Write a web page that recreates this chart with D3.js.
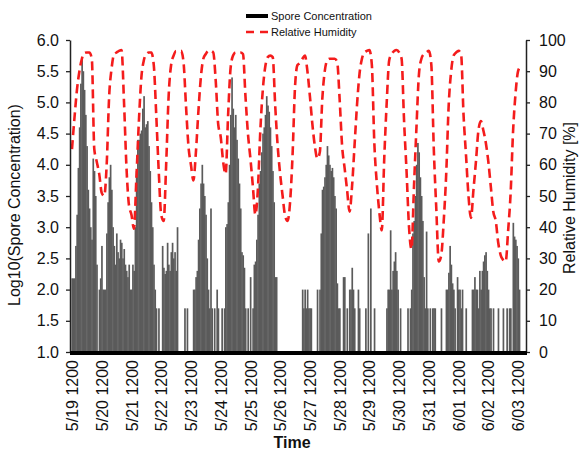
<!DOCTYPE html>
<html>
<head>
<meta charset="utf-8">
<script src="https://cdn.jsdelivr.net/npm/d3@7"></script>
<style>
  body { margin: 0; background: #fff; }
  svg { display: block; font-family: "Liberation Sans", Arial, sans-serif; }
</style>
</head>
<body>
<script>
// hourly log10 spore counts, starting 5/19 12:00 (1.0 = nothing caught)
const startTime = new Date(2008, 4, 19, 12, 0);
const sporeLog = [
  2.18,2.18,2.18,2.7,3.2,3.95,4.6,5.3,5.7,5.5,5.2,4.8,4.3,3.6,3.3,3.0,2.8,4.1,3.9,3.5,2.4,1.0,2.0,2.18,
  2.7,2.0,2.0,2.0,2.9,3.4,3.8,4.0,3.6,3.0,2.7,2.4,2.9,2.6,2.5,2.8,2.75,2.5,2.65,2.4,2.3,2.2,2.4,2.0,
  2.0,2.4,2.3,3.0,3.9,4.4,4.4,4.5,4.55,4.9,5.1,4.6,4.65,4.7,4.3,3.9,3.4,3.0,2.4,2.0,1.7,1.0,1.7,1.0,
  1.0,2.7,2.35,2.25,2.3,2.75,2.4,2.3,2.6,2.75,2.5,2.6,2.3,3.0,1.0,1.0,1.0,1.0,1.0,1.7,1.0,1.7,1.0,1.0,
  1.0,1.0,2.0,2.0,2.2,2.3,2.8,3.3,3.7,4.0,3.7,3.5,3.2,2.5,2.0,1.7,3.3,1.7,1.0,1.7,1.0,2.0,1.7,1.0,
  1.0,1.7,1.0,1.7,3.0,3.05,3.4,4.0,4.8,5.4,4.9,4.6,4.8,4.4,4.1,3.7,3.3,2.6,2.55,2.35,1.7,1.0,1.7,1.0,
  2.2,1.0,1.7,2.4,2.45,2.8,3.2,3.7,3.9,4.2,4.5,4.6,4.8,5.1,4.95,4.85,4.6,4.3,3.9,3.4,2.2,2.2,1.0,1.0,
  1.0,1.0,1.0,1.0,1.0,1.0,1.0,1.0,1.0,1.0,1.0,1.0,1.0,1.0,1.0,1.0,1.0,1.0,2.0,1.7,2.0,1.7,2.0,1.7,
  1.7,1.7,1.0,1.0,1.0,1.0,2.0,1.0,2.0,2.9,3.6,3.65,3.8,4.0,4.3,4.15,4.0,3.9,3.95,3.8,3.5,3.3,2.1,1.7,
  1.7,1.0,1.0,2.2,2.2,1.0,1.7,1.0,2.0,2.0,2.35,2.0,1.7,1.0,1.0,2.0,1.7,1.0,1.0,1.0,1.0,1.7,1.0,2.9,
  1.0,3.3,1.0,1.0,1.7,1.0,1.0,1.0,1.0,1.0,1.0,1.0,1.0,1.0,1.7,2.0,2.0,2.95,2.0,2.3,2.45,2.6,2.3,2.0,
  1.0,1.7,1.0,1.0,1.0,1.0,1.0,1.7,1.0,1.7,2.0,2.9,3.1,3.5,4.0,4.35,4.2,3.8,3.5,3.1,2.2,1.7,2.93,1.7,
  1.0,1.7,1.0,1.7,1.7,1.7,1.0,1.0,1.0,1.0,1.7,1.0,1.0,1.0,2.0,2.0,2.27,2.7,2.4,2.1,2.0,1.7,1.0,2.2,
  2.0,2.0,1.7,2.0,1.0,1.0,1.7,1.0,1.0,1.0,1.0,2.0,2.0,2.2,2.0,2.0,1.7,2.3,2.0,2.3,2.45,2.55,2.6,2.3,
  2.0,1.7,1.7,1.0,1.7,1.0,1.0,1.0,1.7,1.0,1.0,1.0,1.7,1.0,1.0,1.7,1.0,1.7,1.7,1.0,3.07,2.85,2.8,2.7,2.5,2.0,1.0,1.0
];

// relative humidity (%), every 2 hours from the same start
const humidityStep = 2;
const humidity = [
  65,75,84,90,94,95.8,96,96,94,65,61,57,
  51,50,60,82,91,95.5,96,96.5,96.8,80,59,47,
  44,39.5,56,74,88,93.5,95.5,96,96,92,76,58,
  44,42,60,82,92,95,96.5,96.5,96.5,93,79,66,
  60,55,64,77,88,94,95.5,96.5,96.5,96,87,73,
  69,61,57,76,91,95,96,96,96,95.5,82,70,
  62,53,44,52,71,84,91.5,94.5,95,94.5,79,66,
  57,50,43.6,42,48,63,85,92,92.6,94,95,90,
  82,73,66,62,64,81,90,93.5,94,94,94,93,
  81,66,59,52,45,53,66,79,89,94,96,96.5,
  96.8,92,67,54,45,39,62,80,93.5,95.5,96.5,96.8,
  96,94,74,58,40,33,53,72,89,94,95.5,96,
  96.5,92,65,46,29,31,42,57,79,90,95,96,
  96.5,95.5,76,63,50,43,52,61,71,74,71,67,
  61,53,45,42,35,31,29.5,29,39,51,71,83,90,91.5
];

const tickDates = ["2008-05-19T12:00","2008-05-20T12:00","2008-05-21T12:00","2008-05-22T12:00",
  "2008-05-23T12:00","2008-05-24T12:00","2008-05-25T12:00","2008-05-26T12:00","2008-05-27T12:00",
  "2008-05-28T12:00","2008-05-29T12:00","2008-05-30T12:00","2008-05-31T12:00","2008-06-01T12:00",
  "2008-06-02T12:00","2008-06-03T12:00"];
const leftTicks = [1.0,1.5,2.0,2.5,3.0,3.5,4.0,4.5,5.0,5.5,6.0];
const rightTicks = [0,10,20,30,40,50,60,70,80,90,100];

const w = 580, h = 453;
const plotLeft = 70, plotRight = 526, plotTop = 40, plotBottom = 352;
const hourMs = 3600e3;
const atHour = (t) => new Date(+startTime + t * hourMs);

const svg = d3.select('body').append('svg')
  .attr('width', w)
  .attr('height', h);

// scales
const xScale = d3.scaleTime()
  .domain([atHour(-1.6), atHour(366.4)])
  .range([plotLeft, plotRight]);
const yLeft = d3.scaleLinear().domain([1, 6]).range([plotBottom, plotTop]);
const yRight = d3.scaleLinear().domain([0, 100]).range([plotBottom, plotTop]);

// spore bars (small overlap so neighbouring hours don't leave seams)
svg.append('g')
  .selectAll('rect')
  .data(sporeLog.map((v, i) => ({ t: i, v: v })).filter(d => d.v > 1))
  .enter()
  .append('rect')
  .attr('x', d => xScale(atHour(d.t - 0.5)))
  .attr('width', d => xScale(atHour(d.t + 0.5)) - xScale(atHour(d.t - 0.5)) + 0.45)
  .attr('y', d => yLeft(d.v))
  .attr('height', d => plotBottom - yLeft(d.v))
  .attr('fill', '#5b5b5b');

// humidity line
const line = d3.line()
  .x((d, i) => xScale(atHour(i * humidityStep)))
  .y(d => yRight(d))
  .curve(d3.curveMonotoneX);

svg.append('path')
  .datum(humidity)
  .attr('d', line)
  .attr('fill', 'none')
  .attr('stroke', '#f41c1c')
  .attr('stroke-width', 2.6)
  .attr('stroke-dasharray', '9,5');

// left axis
const yAxisL = d3.axisLeft(yLeft).tickValues(leftTicks).tickFormat(d3.format('.1f'))
  .tickSizeInner(4).tickSizeOuter(0).tickPadding(7);
const gl = svg.append('g')
  .attr('transform', `translate(${plotLeft},0)`)
  .call(yAxisL);

// right axis
const yAxisR = d3.axisRight(yRight).tickValues(rightTicks)
  .tickSizeInner(4).tickSizeOuter(0).tickPadding(9);
const gr = svg.append('g')
  .attr('transform', `translate(${plotRight},0)`)
  .call(yAxisR);

[gl, gr].forEach(g => {
  g.select('.domain').attr('stroke', '#222').attr('stroke-width', 1.5);
  g.selectAll('.tick line').attr('stroke', '#222').attr('stroke-width', 1.3);
  g.selectAll('text').style('font-size', '16px').attr('fill', '#111');
});

// x axis: thick base line + rotated date labels
svg.append('line')
  .attr('x1', plotLeft).attr('x2', plotRight + 1)
  .attr('y1', plotBottom + 1).attr('y2', plotBottom + 1)
  .attr('stroke', '#000')
  .attr('stroke-width', 4);

const xAxis = d3.axisBottom(xScale)
  .tickValues(tickDates.map(d => new Date(d)))
  .tickFormat(d3.timeFormat('%-m/%d %H%M'))
  .tickSize(0);
const gx = svg.append('g')
  .attr('transform', `translate(0,${plotBottom})`)
  .call(xAxis);
gx.select('.domain').remove();
gx.selectAll('text')
  .attr('transform', 'rotate(-90)')
  .attr('text-anchor', 'end')
  .attr('x', -8)
  .attr('y', 0)
  .attr('dy', '0.35em')
  .style('font-size', '16px')
  .attr('fill', '#111');

// axis titles
svg.append('text')
  .attr('transform', 'translate(20,205) rotate(-90)')
  .attr('text-anchor', 'middle')
  .style('font-size', '16px')
  .attr('fill', '#111')
  .text('Log10(Spore Concentration)');

svg.append('text')
  .attr('transform', 'translate(575,198) rotate(-90)')
  .attr('text-anchor', 'middle')
  .style('font-size', '16px')
  .attr('fill', '#111')
  .text('Relative Humidity [%]');

svg.append('text')
  .attr('x', 292)
  .attr('y', 448)
  .attr('text-anchor', 'middle')
  .style('font-size', '16px')
  .style('font-weight', 'bold')
  .attr('fill', '#111')
  .text('Time');

// legend
const legend = svg.append('g');
legend.append('rect')
  .attr('x', 246).attr('y', 14)
  .attr('width', 22).attr('height', 4)
  .attr('fill', '#000');
legend.append('text')
  .attr('x', 271).attr('y', 20)
  .style('font-size', '11px')
  .attr('fill', '#111')
  .text('Spore Concentration');
legend.append('line')
  .attr('x1', 246).attr('x2', 268)
  .attr('y1', 32).attr('y2', 32)
  .attr('stroke', '#f41c1c')
  .attr('stroke-width', 2.6)
  .attr('stroke-dasharray', '8,6');
legend.append('text')
  .attr('x', 271).attr('y', 36)
  .style('font-size', '11px')
  .attr('fill', '#111')
  .text('Relative Humidity');
</script>
</body>
</html>
